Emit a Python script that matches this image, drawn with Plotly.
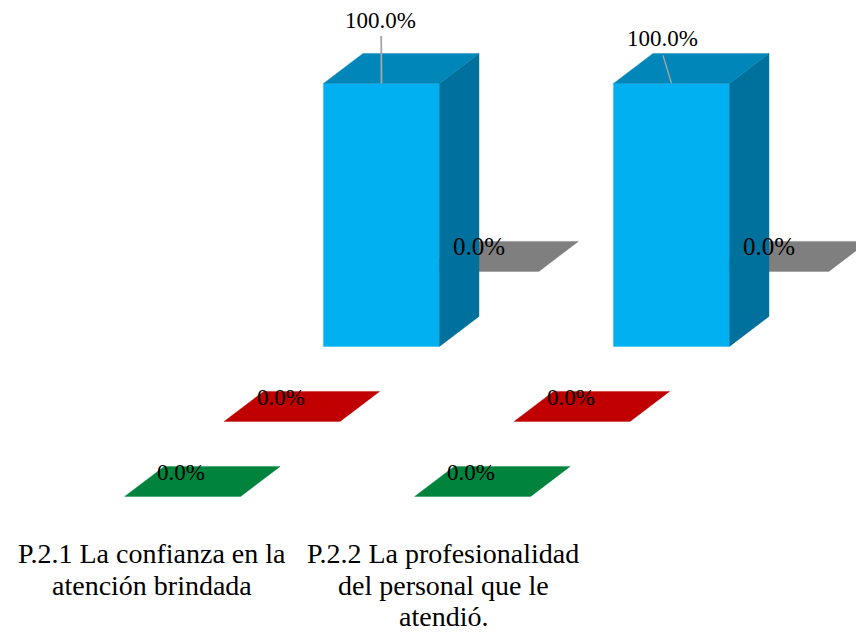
import plotly.graph_objects as go

# Survey results per question, one list per response series (percent)
categories = [
    ["P.2.1 La confianza en la", "atención brindada"],
    ["P.2.2 La profesionalidad", "del personal que le", "atendió."],
]
green_values = [0.0, 0.0]
red_values = [0.0, 0.0]
blue_values = [100.0, 100.0]
gray_values = [0.0, 0.0]

WIDTH, HEIGHT = 856, 632
FONT = "Liberation Serif"

# Axis scale: one x unit is one category step, one y unit is one percent
PX_PER_CAT = 290.0
PX_PER_PCT = 2.63
X_ORIGIN_PX = 381.5   # centre of the first column's front face
Y_ORIGIN_PX = 346.4   # base of the columns' front faces

# Oblique projection of the depth axis, in axis units
BAR_W = 116.0 / PX_PER_CAT
DEPTH_DX = 39.5 / PX_PER_CAT
DEPTH_DY = 30.0 / PX_PER_PCT
ROW_DX = 99.4 / PX_PER_CAT
ROW_DY = 75.0 / PX_PER_PCT


def dx(px):
    return px / PX_PER_CAT


def dy(px):
    return -px / PX_PER_PCT


# Back rows are painted first so nearer rows sit on top of them
# (values, depth row, front, top, side, label offset px, label size)
rows = [
    (gray_values, 1, "#7f7f7f", "#7f7f7f", "#7f7f7f", (-1.5, -25.4), 25),
    (blue_values, 0, "#00b0f0", "#0086b8", "#00709c", None, 23),
    (red_values, -1, "#c00000", "#c00000", "#c00000", (-1.5, -24.4), 23),
    (green_values, -2, "#00843d", "#00843d", "#00843d", (-2, -23.9), 23),
]

# Labels with leader lines: label offset, line end and line width, px from the column top
leaders = [
    {"label": (-1.2, -63.4), "line": (-0.3, -47.5), "width": 1.8},
    {"label": (-9.2, -45.4), "line": (-8.5, -28), "width": 1.4},
]

# Category label layout, px: horizontal shift from the first row, first line, line step
CAT_SHIFT_PX = [-229.4, -228.2]
CAT_TOP_PX = 207
CAT_STEP_PX = 31.7

fig = go.Figure()
annotations = []


def face(xs, ys, color):
    fig.add_trace(go.Scatter(
        x=xs + xs[:1], y=ys + ys[:1], mode="lines", fill="toself",
        fillcolor=color, line=dict(width=0.4, color=color),
        hoverinfo="skip", showlegend=False,
    ))


for values, row, front, top, side, offset, size in rows:
    for c, v in enumerate(values):
        x0 = c + row * ROW_DX - BAR_W / 2
        x1 = x0 + BAR_W
        base = row * ROW_DY
        h = base + v
        ox, oy = x0 + DEPTH_DX, h + DEPTH_DY
        rx, ry = x1 + DEPTH_DX, h + DEPTH_DY
        if v > 0:
            face([x0, x1, x1, x0], [base, base, h, h], front)
            face([x1, rx, rx, x1], [base, base + DEPTH_DY, ry, h], side)
        face([x0, x1, rx, ox], [h, h, ry, oy], top)

        cx = (x0 + x1) / 2
        text = f"{v:.1f}%"
        if offset is None:
            lead = leaders[c]
            fig.add_trace(go.Scatter(
                x=[cx, cx + dx(lead["line"][0])],
                y=[h, h + dy(lead["line"][1])],
                mode="lines", line=dict(color="#a6a6a6", width=lead["width"]),
                hoverinfo="skip", showlegend=False,
            ))
            annotations.append((cx + dx(lead["label"][0]), h + dy(lead["label"][1]), text, size))
        else:
            # Flat columns: the label sits over the projected top face
            annotations.append((cx + dx(offset[0]), h + dy(offset[1]), text, size))

layout_annotations = [
    dict(x=x, y=y, text=t, showarrow=False, xanchor="center", yanchor="middle",
         font=dict(family=FONT, size=s, color="#000000"))
    for x, y, t, s in annotations
]

# Category labels under the chart, one annotation per line
for c, lines in enumerate(categories):
    for i, line in enumerate(lines):
        layout_annotations.append(dict(
            x=c + dx(CAT_SHIFT_PX[c]), y=dy(CAT_TOP_PX + i * CAT_STEP_PX), text=line,
            showarrow=False, xanchor="center", yanchor="middle",
            font=dict(family=FONT, size=28, color="#000000"),
        ))

fig.update_layout(
    width=WIDTH, height=HEIGHT,
    margin=dict(l=0, r=0, t=0, b=0),
    paper_bgcolor="white", plot_bgcolor="white",
    showlegend=False,
    xaxis=dict(visible=False, fixedrange=True,
               range=[-X_ORIGIN_PX / PX_PER_CAT, (WIDTH - X_ORIGIN_PX) / PX_PER_CAT]),
    yaxis=dict(visible=False, fixedrange=True,
               range=[(Y_ORIGIN_PX - HEIGHT) / PX_PER_PCT, Y_ORIGIN_PX / PX_PER_PCT]),
    annotations=layout_annotations,
)

fig.write_html("out.html", config=dict(displayModeBar=False))
